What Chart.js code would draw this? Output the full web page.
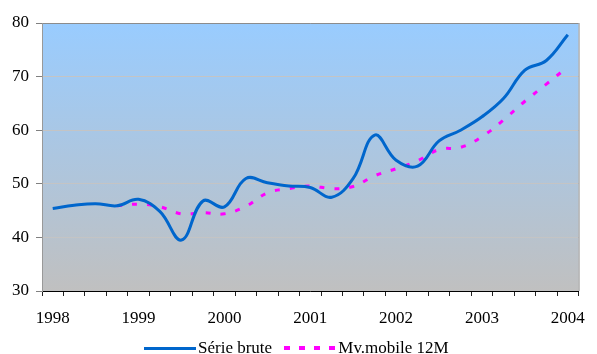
<!DOCTYPE html>
<html lang="fr">
<head>
<meta charset="utf-8">
<title>Série brute et moyenne mobile</title>
<script src="https://cdn.jsdelivr.net/npm/chart.js@4.4.1/dist/chart.umd.min.js"></script>
<style>
  html, body { margin: 0; padding: 0; background: #fff; }
  .wrap { position: relative; width: 597px; height: 354px; overflow: hidden; }
  #chart { display: block; }
  .legend {
    position: absolute; left: 144px; top: 337px;
    font-family: "Times New Roman", "Liberation Serif", Times, serif;
    font-size: 17px; color: #000; white-space: nowrap;
  }
  .legend span { display: inline-block; vertical-align: middle; }
  .swatch { width: 52px; height: 3px; margin-right: 2px; }
  .swatch--brute { background: #0066cc; }
  .swatch--mm {
    height: 4px; margin-left: 8px;
    background: repeating-linear-gradient(90deg, #ff00ff 0 6px, transparent 6px 15px);
  }
</style>
</head>
<body>
<div class="wrap">
  <canvas id="chart" width="597" height="354"></canvas>
  <div class="legend">
    <span class="swatch swatch--brute"></span><span>Série brute</span>
    <span class="swatch swatch--mm"></span><span>Mv.mobile 12M</span>
  </div>
</div>
<script>
(function () {
  'use strict';

  // Trimestres 1998 T1 -> 2004 T1.
  const periods = [
    '1998 T1', '1998 T2', '1998 T3', '1998 T4',
    '1999 T1', '1999 T2', '1999 T3', '1999 T4',
    '2000 T1', '2000 T2', '2000 T3', '2000 T4',
    '2001 T1', '2001 T2', '2001 T3', '2001 T4',
    '2002 T1', '2002 T2', '2002 T3', '2002 T4',
    '2003 T1', '2003 T2', '2003 T3', '2003 T4',
    '2004 T1'
  ];
  const yearLabels = ['1998', '1999', '2000', '2001', '2002', '2003', '2004'];

  const serieBrute = [
    45.4, 46.0, 46.3, 45.9, 47.1, 44.8, 39.5, 46.8, 45.7, 51.0,
    50.2, 49.6, 49.3, 47.5, 51.0, 59.1, 54.4, 53.3, 58.0, 60.0,
    62.5, 65.9, 71.2, 73.0, 77.8
  ];
  const moyenneMobile = [
    null, null, null, 45.9, 46.2, 45.7, 44.4, 44.6, 44.4, 45.8,
    48.3, 49.1, 49.6, 49.1, 49.5, 51.5, 52.8, 54.3, 56.4, 56.8,
    58.8, 61.9, 65.4, 68.6, 71.8
  ];

  const yTicks = [30, 40, 50, 60, 70, 80];
  const serif = '"Times New Roman", "Liberation Serif", Times, serif';

  // Fond dégradé bleu -> gris et bord droit du cadre.
  const plotFrame = {
    id: 'plotFrame',
    beforeDatasetsDraw: function (chart) {
      const a = chart.chartArea;
      const ctx = chart.ctx;
      ctx.save();
      ctx.globalCompositeOperation = 'destination-over';
      const g = ctx.createLinearGradient(0, a.top, 0, a.bottom);
      g.addColorStop(0, '#99ccff');
      g.addColorStop(1, '#c0c0c0');
      ctx.fillStyle = g;
      ctx.fillRect(a.left, a.top, a.right - a.left, a.bottom - a.top);
      ctx.restore();
    },
    afterDraw: function (chart) {
      const a = chart.chartArea;
      const ctx = chart.ctx;
      ctx.save();
      ctx.strokeStyle = '#8c8c8c';
      ctx.lineWidth = 1;
      ctx.beginPath();
      ctx.moveTo(a.right + 0.5, a.top);
      ctx.lineTo(a.right + 0.5, a.bottom);
      ctx.stroke();
      ctx.restore();
    }
  };

  new Chart(document.getElementById('chart'), {
    type: 'line',
    data: {
      labels: periods,
      datasets: [
        {
          label: 'Série brute',
          data: serieBrute,
          borderColor: '#0066cc',
          borderWidth: 3,
          pointRadius: 0,
          tension: 0.4,
          fill: false
        },
        {
          label: 'Mv.mobile 12M',
          data: moyenneMobile,
          borderColor: '#ff00ff',
          borderWidth: 3,
          borderDash: [5, 10],
          pointRadius: 0,
          tension: 0.4,
          fill: false
        }
      ]
    },
    options: {
      responsive: false,
      animation: false,
      events: [],
      layout: { padding: { left: 0, top: 23, right: 9, bottom: 0 } },
      plugins: {
        legend: { display: false },
        tooltip: { enabled: false }
      },
      scales: {
        x: {
          offset: true,
          afterFit: function (scale) { scale.height = 63; },
          grid: {
            offset: true,
            drawOnChartArea: false,
            tickLength: 5,
            tickColor: '#222'
          },
          border: { color: '#000', width: 1 },
          ticks: {
            autoSkip: false,
            maxRotation: 0,
            padding: 12,
            color: '#000',
            font: { family: serif, size: 17 },
            callback: function (value, index) {
              return index % 4 === 0 ? yearLabels[index / 4] : '';
            }
          }
        },
        y: {
          min: 30,
          max: 80,
          afterFit: function (scale) { scale.width = 42; },
          afterBuildTicks: function (scale) {
            scale.ticks = yTicks.map(function (v) { return { value: v }; });
          },
          grid: {
            tickLength: 6,
            tickColor: '#808080',
            color: function (c) {
              if (c.tick && c.tick.value === 80) {
                return '#8c8c8c';
              }
              return '#c4c4c4';
            }
          },
          border: { color: '#999999', width: 1 },
          ticks: {
            padding: 7,
            color: '#000',
            font: { family: serif, size: 17 }
          }
        }
      }
    },
    plugins: [plotFrame]
  });
})();
</script>
</body>
</html>
